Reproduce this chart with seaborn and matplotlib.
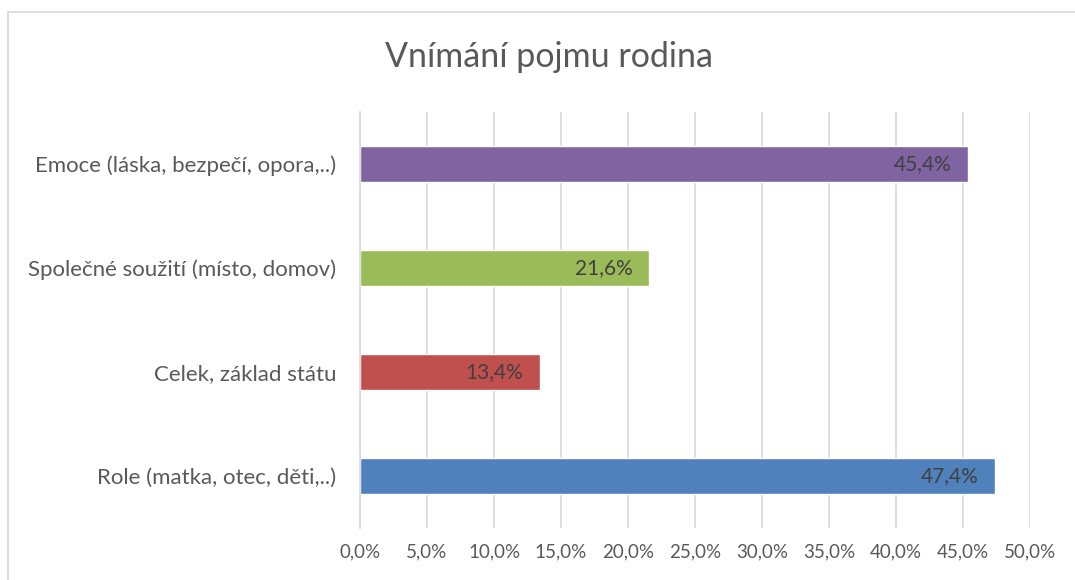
import matplotlib
matplotlib.use("Agg")
import matplotlib.pyplot as plt
import matplotlib.patches as patches
from matplotlib.ticker import FuncFormatter, MultipleLocator
import seaborn as sns
import pandas as pd

# Data
categories = ["Emoce (láska, bezpečí, opora,..)",
              "Společné soužití (místo, domov)",
              "Celek, základ státu",
              "Role (matka, otec, děti,..)"]
values = [45.4, 21.6, 13.4, 47.4]
colors = ["#8064A2", "#9BBB59", "#C0504D", "#4F81BD"]

df = pd.DataFrame({"kategorie": categories, "procento": values})

sns.set_theme(style="white")
plt.rcParams["font.family"] = ["Lato", "DejaVu Sans"]

fig = plt.figure(figsize=(10.75, 5.8), dpi=100)
ax = fig.add_axes([360 / 1075, 52 / 580, 670 / 1075, 416 / 580])

sns.barplot(data=df, x="procento", y="kategorie", hue="kategorie",
            palette=colors, legend=False, width=0.35, saturation=1, ax=ax)

ax.set_xlim(0, 50)
ax.xaxis.set_major_locator(MultipleLocator(5))
ax.xaxis.set_major_formatter(FuncFormatter(lambda v, p: f"{v:.1f}%".replace(".", ",")))
ax.grid(axis="x", color="#D9D9D9", linewidth=1.2)
ax.set_axisbelow(True)
for s in ["top", "right", "bottom"]:
    ax.spines[s].set_visible(False)
ax.spines["left"].set_color("#D9D9D9")
ax.spines["left"].set_linewidth(1.2)
ax.set_xlabel("")
ax.set_ylabel("")
ax.tick_params(axis="both", length=0, colors="#595959")
ax.tick_params(axis="x", pad=11, labelsize=13.5)
ax.tick_params(axis="y", pad=17, labelsize=16)

# Value labels inside bar ends
for i, v in enumerate(values):
    ax.text(v - 1.25, i, f"{v:.1f}%".replace(".", ","), ha="right", va="center",
            fontsize=15, color="#404040")

fig.text(549 / 1075, 1 - 57 / 580, "Vnímání pojmu rodina", ha="center", va="center",
         fontsize=24.5, color="#595959")

# Chart border
fig.patches.append(patches.Rectangle((8 / 1075, -0.05), 1.1, 1 - 12 / 580 + 0.05,
                                     transform=fig.transFigure, fill=False,
                                     edgecolor="#D9D9D9", linewidth=1.2))

fig.savefig("out.png", dpi=100)
